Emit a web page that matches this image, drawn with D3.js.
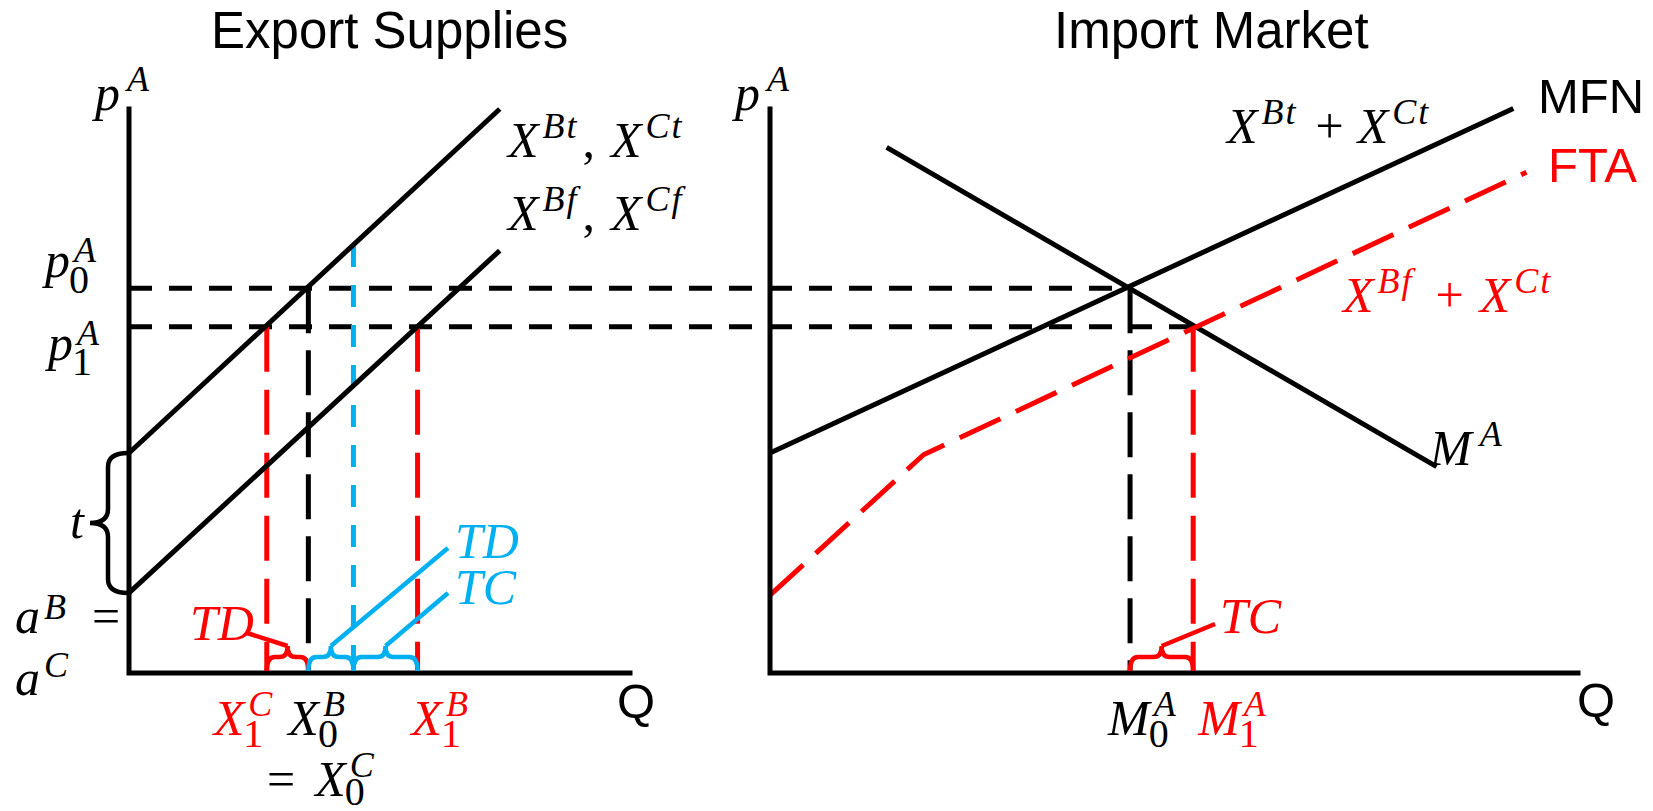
<!DOCTYPE html>
<html>
<head>
<meta charset="utf-8">
<script src="https://cdn.jsdelivr.net/npm/d3@7"></script>
<style>
body { margin: 0; background: #fff; }
svg { display: block; }
.title { font-family: "Liberation Sans", Arial, sans-serif; font-size: 51px; }
.mi { font-family: "Liberation Serif", serif; font-style: italic; font-size: 50px; }
.mr { font-family: "Liberation Serif", serif; font-size: 50px; }
.sup { font-family: "Liberation Serif", serif; font-style: italic; font-size: 36px; letter-spacing: 2px; }
.sub { font-family: "Liberation Serif", serif; font-size: 40px; }
</style>
</head>
<body>
<svg width="1653" height="811"></svg>
<script>
var RED = "#ff0000", BLUE = "#00b0f0", BLACK = "#000";

// price levels p0 (MFN) and p1 (FTA)
var priceLevels = [6.82, 6.14];
// export supplies, [Q, p]
var supplyTariff = [[0, 3.90], [7.40, 10.0]];
var supplyFree = [[0, 1.42], [7.40, 7.49]];
// X1C, X0 (B = C), TD/TC split, X1B
var exportQ = [2.75, 3.58, 4.48, 5.76];
var splitTop = 7.59;
// import market, [Q, p]
var demand = [[2.31, 9.32], [13.2, 3.66]];
var mfnSupply = [[0, 3.90], [14.72, 10.01]];
var ftaSupply = [[0, 1.38], [3.04, 3.87], [14.98, 8.88]];
// M0, M1
var importQ = [7.13, 8.38];

var svg = d3.select("svg");

var xL = d3.scaleLinear().domain([0, 10]).range([129, 630]);
var xR = d3.scaleLinear().domain([0, 16]).range([770, 1578]);
var y = d3.scaleLinear().domain([0, 10]).range([673, 109]);

var SW = 5;

function lineOn(xs) {
	return d3.line().x(function (d) { return xs(d[0]); }).y(function (d) { return y(d[1]); });
}
var lineL = lineOn(xL), lineR = lineOn(xR);

var p0 = priceLevels[0], p1 = priceLevels[1];

// horizontal price guides across both panels
svg.append("line").attr("x1", xL(0)).attr("x2", xR(importQ[0]))
	.attr("y1", y(p0)).attr("y2", y(p0))
	.attr("stroke", BLACK).attr("stroke-width", SW).attr("stroke-dasharray", "23,17");
svg.append("line").attr("x1", xL(0)).attr("x2", xR(importQ[1]))
	.attr("y1", y(p1)).attr("y2", y(p1))
	.attr("stroke", BLACK).attr("stroke-width", SW).attr("stroke-dasharray", "23,17");

function vline(xpos, top, color, dash) {
	svg.append("line").attr("x1", xpos).attr("x2", xpos)
		.attr("y1", y(top)).attr("y2", y(0))
		.attr("stroke", color).attr("stroke-width", SW).attr("stroke-dasharray", dash);
}

vline(xL(exportQ[0]), p1, RED, "45,18");
vline(xL(exportQ[1]), p0, BLACK, "45,17");
vline(xL(exportQ[2]), splitTop, BLUE, "22,18");
vline(xL(exportQ[3]), p1, RED, "45,18");
vline(xR(importQ[0]), p0, BLACK, "45,17");
vline(xR(importQ[1]), p1, RED, "45,18");

// supply / demand curves
svg.append("path").attr("d", lineL(supplyTariff)).attr("fill", "none").attr("stroke", BLACK).attr("stroke-width", SW);
svg.append("path").attr("d", lineL(supplyFree)).attr("fill", "none").attr("stroke", BLACK).attr("stroke-width", SW);
svg.append("path").attr("d", lineR(demand)).attr("fill", "none").attr("stroke", BLACK).attr("stroke-width", SW);
svg.append("path").attr("d", lineR(mfnSupply)).attr("fill", "none").attr("stroke", BLACK).attr("stroke-width", SW);
svg.append("path").attr("d", lineR(ftaSupply)).attr("fill", "none").attr("stroke", RED).attr("stroke-width", SW)
	.attr("stroke-dasharray", "45,17").attr("stroke-linejoin", "round");

// axes
svg.append("path").attr("d", lineL([[0, 10], [0, 0], [10, 0]])).attr("fill", "none")
	.attr("stroke", BLACK).attr("stroke-width", SW).attr("stroke-linecap", "square");
svg.append("path").attr("d", lineR([[0, 10], [0, 0], [16, 0]])).attr("fill", "none")
	.attr("stroke", BLACK).attr("stroke-width", SW).attr("stroke-linecap", "square");

// braces
function hbrace(x1, x2, color) {
	var yb = y(0) - 2, ym = yb - 14, yt = ym - 11, xm = (x1 + x2) / 2, r = 8;
	var d = "M" + x1 + "," + yb + " Q" + x1 + "," + ym + " " + (x1 + r) + "," + ym +
		" L" + (xm - r) + "," + ym + " Q" + xm + "," + ym + " " + xm + "," + yt +
		" Q" + xm + "," + ym + " " + (xm + r) + "," + ym +
		" L" + (x2 - r) + "," + ym + " Q" + x2 + "," + ym + " " + x2 + "," + yb;
	svg.append("path").attr("d", d).attr("fill", "none").attr("stroke", color).attr("stroke-width", 4.5);
	return [xm, yt];
}

function vbrace(xb, y1, y2) {
	var xm = xb - 20, xt = xb - 38, ymid = (y1 + y2) / 2, r = 14;
	var d = "M" + xb + "," + y1 + " Q" + xm + "," + y1 + " " + xm + "," + (y1 + r) +
		" L" + xm + "," + (ymid - r) + " Q" + xm + "," + ymid + " " + xt + "," + ymid +
		" Q" + xm + "," + ymid + " " + xm + "," + (ymid + r) +
		" L" + xm + "," + (y2 - r) + " Q" + xm + "," + y2 + " " + xb + "," + y2;
	svg.append("path").attr("d", d).attr("fill", "none").attr("stroke", BLACK).attr("stroke-width", 4.5);
}

vbrace(xL(0) - 1, y(supplyTariff[0][1]), y(supplyFree[0][1]));

var tdRed = hbrace(xL(exportQ[0]), xL(exportQ[1]), RED);
var tdBlue = hbrace(xL(exportQ[1]), xL(exportQ[2]), BLUE);
var tcBlue = hbrace(xL(exportQ[2]), xL(exportQ[3]), BLUE);
var tcRed = hbrace(xR(importQ[0]), xR(importQ[1]), RED);

function leader(from, x2, y2, color) {
	svg.append("line").attr("x1", from[0]).attr("y1", from[1]).attr("x2", x2).attr("y2", y2)
		.attr("stroke", color).attr("stroke-width", 4.5);
}
leader(tdRed, 247, 633, RED);
leader(tdBlue, 448, 548, BLUE);
leader(tcBlue, 448, 593, BLUE);
leader(tcRed, 1215, 624, RED);

// math style labels
function math(x, yb, parts, color, opt) {
	opt = opt || {};
	var up = opt.up || 19, down = opt.down || 12;
	var g = svg.append("g").attr("fill", color || BLACK);
	var cx = x;
	parts.forEach(function (p) {
		if (p.pre) cx += p.pre;
		if (p.b !== undefined || p.r !== undefined) {
			var t = g.append("text").attr("class", p.b !== undefined ? "mi" : "mr")
				.attr("x", cx).attr("y", yb).text(p.b !== undefined ? p.b : p.r);
			cx += t.node().getComputedTextLength();
		} else {
			var w = 0, sdx = p.sdx === undefined ? 4 : p.sdx, bdx = p.bdx === undefined ? -1 : p.bdx;
			if (p.sup) {
				var s = g.append("text").attr("class", "sup").attr("x", cx + sdx).attr("y", yb - up).text(p.sup);
				w = Math.max(w, s.node().getComputedTextLength() + sdx);
			}
			if (p.sub) {
				var u = g.append("text").attr("class", "sub").attr("x", cx + bdx).attr("y", yb + down).text(p.sub);
				w = Math.max(w, u.node().getComputedTextLength() + bdx);
			}
			cx += w;
		}
	});
}

// titles
svg.append("text").attr("class", "title").attr("x", 211).attr("y", 48).text("Export Supplies");
svg.append("text").attr("class", "title").attr("x", 1054).attr("y", 48).text("Import Market");
svg.append("text").attr("class", "title").attr("x", 1538).attr("y", 113).style("font-size", "49px").text("MFN");
svg.append("text").attr("class", "title").attr("x", 1548).attr("y", 182).style("font-size", "49px").attr("fill", RED).text("FTA");
svg.append("text").attr("class", "title").attr("x", xL(10) - 13).attr("y", 718).style("font-size", "49px").text("Q");
svg.append("text").attr("class", "title").attr("x", xR(16) - 1).attr("y", 717).style("font-size", "49px").text("Q");

// left panel labels
math(95, 110, [{ b: "p" }, { sup: "A", sdx: 7 }]);
math(45, y(p0) - 11, [{ b: "p" }, { sup: "A", sub: "0" }], BLACK, { up: 15, down: 16 });
math(48, y(p1) + 33, [{ b: "p" }, { sup: "A", sub: "1" }], BLACK, { up: 15, down: 15 });
math(508, 157, [{ b: "X" }, { sup: "Bt" }, { r: ",", pre: 4 }, { b: "X", pre: 16 }, { sup: "Ct" }]);
math(508, 230, [{ b: "X" }, { sup: "Bf" }, { r: ",", pre: 4 }, { b: "X", pre: 16 }, { sup: "Cf" }]);
math(70, 538, [{ b: "t" }]);
math(15, 633, [{ b: "a" }, { sup: "B" }, { r: "=", pre: 24 }], BLACK, { up: 14 });
math(15, 695, [{ b: "a" }, { sup: "C" }], BLACK, { up: 18 });
math(xL(exportQ[0]) - 53, 735, [{ b: "X" }, { sup: "C", sub: "1" }], RED);
math(xL(exportQ[1]) - 20, 735, [{ b: "X" }, { sup: "B", sub: "0" }]);
math(xL(exportQ[3]) - 6, 735, [{ b: "X" }, { sup: "B", sub: "1" }], RED);
math(267, 796, [{ r: "=" }, { b: "X", pre: 20 }, { sup: "C", sub: "0" }], BLACK, { down: 9 });
math(190, 640, [{ b: "TD" }], RED);
math(455, 558, [{ b: "TD" }], BLUE);
math(455, 604, [{ b: "TC" }], BLUE);

// right panel labels
math(735, 110, [{ b: "p" }, { sup: "A", sdx: 7 }]);
math(1227, 143, [{ b: "X" }, { sup: "Bt" }, { r: "+", pre: 18 }, { b: "X", pre: 14 }, { sup: "Ct" }]);
math(1343, 312, [{ b: "X" }, { sup: "Bf" }, { r: "+", pre: 22 }, { b: "X", pre: 16 }, { sup: "Ct" }], RED);
math(1430, 465, [{ b: "M" }, { sup: "A", sdx: 8 }]);
math(xR(importQ[0]) - 22, 735, [{ b: "M" }, { sup: "A", sub: "0" }]);
math(xR(importQ[1]) + 5, 735, [{ b: "M" }, { sup: "A", sub: "1" }], RED);
math(1220, 633, [{ b: "TC" }], RED);
</script>
</body>
</html>
